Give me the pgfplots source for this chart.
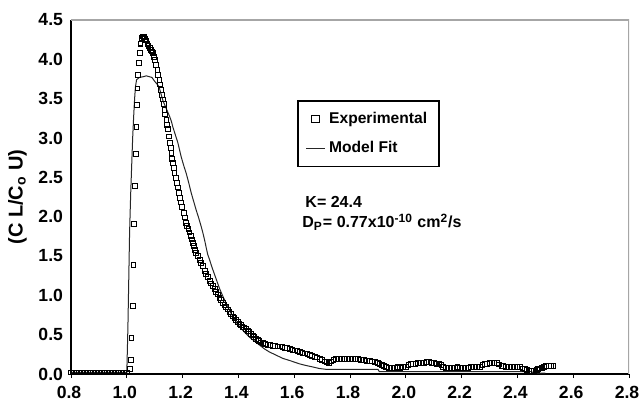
\documentclass[border=0pt]{standalone}
\usepackage{fontspec}
\setmainfont{Liberation Sans}
\usepackage{pgfplots}
\usepackage{pgfplotstable}
\pgfplotsset{compat=1.18}
\pgfplotsset{
  markleg/.style={legend image code/.code={\draw[##1, mark size=1.8pt] plot coordinates {(0.16cm,0cm)};}},
  lineleg/.style={legend image code/.code={\draw[##1] (0cm,0cm) -- (0.32cm,0cm);}},
}

\pgfplotstableread{
x y
0.800 0.02
0.810 0.02
0.820 0.02
0.830 0.02
0.840 0.02
0.850 0.02
0.860 0.02
0.870 0.02
0.880 0.02
0.890 0.02
0.900 0.02
0.910 0.02
0.920 0.02
0.930 0.02
0.940 0.02
0.950 0.02
0.960 0.02
0.970 0.02
0.980 0.02
0.990 0.02
1.000 0.02
1.012 0.06
1.014 0.18
1.017 0.46
1.022 0.86
1.024 1.39
1.026 1.91
1.029 2.39
1.032 2.80
1.035 3.14
1.036 3.42
1.038 3.63
1.040 3.80
1.044 3.95
1.046 4.08
1.049 4.20
1.055 4.27
1.058 4.29
1.062 4.28
1.066 4.26
1.070 4.24
1.074 4.20
1.078 4.17
1.082 4.14
1.086 4.12
1.090 4.10
1.094 4.08
1.098 4.03
1.102 3.99
1.106 3.93
1.110 3.86
1.113 3.80
1.117 3.74
1.120 3.68
1.123 3.61
1.126 3.55
1.129 3.49
1.132 3.43
1.135 3.36
1.138 3.30
1.142 3.23
1.145 3.17
1.148 3.11
1.151 3.02
1.154 2.94
1.157 2.87
1.160 2.81
1.163 2.73
1.165 2.68
1.168 2.62
1.171 2.56
1.175 2.49
1.180 2.43
1.183 2.37
1.187 2.30
1.191 2.24
1.195 2.18
1.199 2.12
1.204 2.05
1.208 1.99
1.213 1.92
1.217 1.88
1.221 1.84
1.225 1.80
1.229 1.75
1.233 1.71
1.237 1.67
1.241 1.63
1.245 1.58
1.249 1.54
1.255 1.50
1.261 1.45
1.267 1.41
1.273 1.37
1.279 1.31
1.285 1.27
1.291 1.23
1.297 1.18
1.303 1.15
1.309 1.12
1.315 1.08
1.320 1.04
1.326 1.01
1.332 0.97
1.338 0.94
1.344 0.90
1.350 0.88
1.356 0.85
1.362 0.82
1.368 0.79
1.374 0.76
1.380 0.73
1.386 0.71
1.392 0.69
1.398 0.66
1.404 0.64
1.410 0.62
1.415 0.60
1.421 0.59
1.427 0.57
1.433 0.55
1.439 0.54
1.445 0.51
1.451 0.49
1.457 0.47
1.463 0.45
1.469 0.43
1.475 0.42
1.481 0.40
1.487 0.39
1.495 0.38
1.505 0.37
1.515 0.37
1.523 0.36
1.530 0.36
1.540 0.35
1.550 0.35
1.558 0.34
1.566 0.33
1.575 0.33
1.585 0.32
1.594 0.31
1.603 0.30
1.612 0.29
1.621 0.28
1.630 0.27
1.639 0.26
1.648 0.25
1.657 0.24
1.665 0.23
1.674 0.22
1.683 0.21
1.692 0.19
1.701 0.18
1.710 0.16
1.718 0.15
1.725 0.14
1.733 0.16
1.741 0.18
1.749 0.19
1.760 0.19
1.770 0.19
1.780 0.19
1.790 0.19
1.800 0.19
1.810 0.19
1.820 0.19
1.830 0.19
1.840 0.18
1.850 0.18
1.860 0.17
1.871 0.17
1.880 0.16
1.890 0.15
1.900 0.14
1.906 0.13
1.915 0.11
1.923 0.10
1.930 0.09
1.940 0.08
1.950 0.08
1.960 0.08
1.970 0.09
1.980 0.08
1.990 0.09
2.002 0.09
2.010 0.11
2.018 0.13
2.026 0.13
2.035 0.13
2.045 0.14
2.055 0.14
2.065 0.14
2.074 0.15
2.083 0.15
2.092 0.14
2.100 0.14
2.110 0.13
2.121 0.13
2.128 0.11
2.134 0.09
2.145 0.08
2.155 0.08
2.165 0.08
2.175 0.08
2.185 0.09
2.195 0.08
2.205 0.08
2.215 0.08
2.225 0.08
2.235 0.09
2.245 0.09
2.255 0.09
2.265 0.09
2.275 0.11
2.283 0.13
2.290 0.13
2.300 0.14
2.310 0.14
2.318 0.14
2.326 0.14
2.335 0.12
2.343 0.10
2.349 0.10
2.360 0.09
2.370 0.09
2.380 0.09
2.390 0.09
2.400 0.09
2.408 0.09
2.418 0.07
2.426 0.06
2.433 0.05
2.441 0.04
2.450 0.04
2.460 0.04
2.469 0.05
2.475 0.06
2.482 0.07
2.489 0.08
2.495 0.09
2.503 0.10
2.512 0.10
2.520 0.10
2.529 0.10
}\exptable

% model fit curve
\pgfplotstableread{
x y
0.800 0.02
1.000 0.02
1.002 0.30
1.004 0.60
1.007 1.20
1.010 1.80
1.014 2.30
1.018 2.70
1.021 3.00
1.025 3.30
1.028 3.50
1.031 3.65
1.035 3.74
1.045 3.77
1.060 3.78
1.070 3.79
1.080 3.78
1.090 3.77
1.100 3.72
1.112 3.67
1.118 3.62
1.125 3.53
1.130 3.47
1.136 3.42
1.142 3.37
1.148 3.32
1.154 3.27
1.160 3.21
1.165 3.14
1.174 3.04
1.183 2.94
1.189 2.85
1.195 2.76
1.204 2.65
1.213 2.55
1.222 2.43
1.231 2.30
1.240 2.19
1.249 2.08
1.258 1.98
1.267 1.87
1.273 1.79
1.279 1.70
1.285 1.60
1.290 1.52
1.296 1.46
1.305 1.36
1.314 1.27
1.323 1.18
1.332 1.09
1.344 0.99
1.356 0.90
1.368 0.81
1.380 0.73
1.392 0.66
1.404 0.60
1.420 0.54
1.439 0.47
1.457 0.42
1.475 0.37
1.493 0.32
1.511 0.28
1.535 0.24
1.558 0.20
1.585 0.17
1.618 0.13
1.640 0.11
1.666 0.09
1.690 0.07
1.713 0.06
1.900 0.06
1.905 0.03
2.450 0.03
2.460 0.01
2.500 0.01
}\modeltable

\begin{document}
\begin{tikzpicture}
  \useasboundingbox (-35.5pt,-13.5pt) rectangle (284.5pt,187pt);
  \begin{axis}[
    scale only axis,
    width=279pt, height=177pt,
    xmin=0.8, xmax=2.8, ymin=0, ymax=4.5,
    xtick={0.8,1.0,...,2.8},
    ytick={0,0.5,...,4.5},
    axis x line*=bottom, axis y line*=left,
    axis line style={line width=0.6pt},
    tick align=outside, major tick length=2pt,
    x tick style={line width=0.5pt, black},
    y tick style={draw=none},
    tick label style={font=\fontsize{8.8}{10}\selectfont\bfseries},
    xticklabel style={xshift=-1pt, yshift=-0.5pt, /pgf/number format/.cd, fixed, fixed zerofill, precision=1, assume math mode=true},
    yticklabel style={xshift=1.5pt, /pgf/number format/.cd, fixed, fixed zerofill, precision=1, assume math mode=true},
    ylabel={(C L/C\textsubscript{o} U)},
    ylabel style={at={(axis description cs:-0.096,0.5)}, anchor=center, font=\fontsize{10}{11}\selectfont\bfseries},
    legend style={at={(axis cs:1.611,3.48)}, anchor=north west, draw=black, line width=0.7pt,
      font=\fontsize{7.8}{9}\selectfont\bfseries, inner xsep=4pt, inner ysep=3.5pt, row sep=3.5pt,
      cells={anchor=west}},
  ]
    \addplot[only marks, mark=square, mark size=1.2pt, mark options={line width=0.5pt, black}, markleg]
      table {\exptable};
    \addlegendentry{Experimental}
    \addplot[black!85, line width=0.5pt, no marks, lineleg]
      table {\modeltable};
    \addlegendentry{Model Fit}
    \draw[gray!70, line width=0.6pt] (rel axis cs:0,1) -- (rel axis cs:1,1) -- (rel axis cs:1,0);
    \node[anchor=base west, inner sep=0pt, font=\fontsize{8}{9}\selectfont\bfseries] at (axis cs:1.639,2.12) {K= 24.4};
    \node[anchor=base west, inner sep=0pt, font=\fontsize{8}{9}\selectfont\bfseries] at (axis cs:1.628,1.86)
      {D\textsubscript{P}= 0.77x10\textsuperscript{-10} cm\textsuperscript{2}/s};
  \end{axis}
\end{tikzpicture}
\end{document}
